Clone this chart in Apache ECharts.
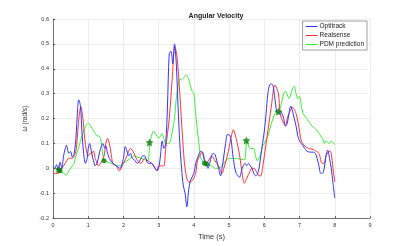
<!DOCTYPE html>
<html><head><meta charset="utf-8">
<script src="https://cdn.jsdelivr.net/npm/echarts@6/dist/echarts.min.js"></script>
<style>html,body{margin:0;padding:0;background:#fff}#c{width:409px;height:246px}</style>
</head><body><div id="c"></div>
<script>
const xTicks = [0,1,2,3,4,5,6,7,8,9];
const yTicks = [-0.2,-0.1,0,0.1,0.2,0.3,0.4,0.5,0.6];
const optitrack = [[0,0.01],[0.05,0.0],[0.1,0.015],[0.15,-0.01],[0.2,0.025],[0.25,0.0],[0.3,0.05],[0.35,0.08],[0.38,0.093],[0.45,0.06],[0.5,0.068],[0.55,0.045],[0.6,0.06],[0.65,0.12],[0.7,0.24],[0.73,0.275],[0.78,0.25],[0.82,0.15],[0.87,0.06],[0.92,0.02],[0.97,0.04],[1.0,0.08],[1.04,0.1],[1.1,0.06],[1.15,0.03],[1.2,0.01],[1.25,0.02],[1.3,0.05],[1.35,0.08],[1.42,0.1],[1.47,0.08],[1.5,0.09],[1.55,0.06],[1.6,0.04],[1.7,0.02],[1.8,0.01],[1.9,0.0],[2.0,0.04],[2.05,0.087],[2.1,0.07],[2.15,0.05],[2.2,0.06],[2.25,0.04],[2.3,0.035],[2.4,0.02],[2.5,0.04],[2.55,0.05],[2.6,0.05],[2.7,0.02],[2.8,0.02],[2.9,0.0],[2.95,-0.01],[3.0,0.0],[3.05,0.05],[3.1,0.11],[3.15,0.08],[3.2,0.1],[3.25,0.25],[3.3,0.46],[3.35,0.47],[3.4,0.42],[3.45,0.5],[3.5,0.42],[3.55,0.25],[3.6,0.1],[3.65,0.0],[3.7,-0.07],[3.75,-0.1],[3.8,-0.155],[3.85,-0.09],[3.9,-0.05],[4.0,-0.02],[4.05,0.02],[4.1,0.04],[4.15,0.06],[4.2,0.07],[4.25,0.06],[4.3,0.03],[4.35,0.02],[4.4,0.0],[4.45,0.02],[4.5,0.05],[4.55,0.06],[4.6,0.055],[4.65,0.03],[4.7,0.0],[4.76,-0.03],[4.8,0.0],[4.85,0.05],[4.9,0.1],[4.95,0.135],[5.0,0.135],[5.05,0.12],[5.1,0.06],[5.15,0.01],[5.2,-0.02],[5.25,-0.03],[5.3,-0.035],[5.35,-0.01],[5.4,0.01],[5.45,0.02],[5.5,0.01],[5.55,0.02],[5.6,0.01],[5.65,0.0],[5.7,-0.02],[5.75,-0.03],[5.8,-0.025],[5.85,0.0],[5.9,0.05],[5.95,0.1],[6.0,0.15],[6.05,0.22],[6.1,0.3],[6.15,0.335],[6.2,0.34],[6.25,0.33],[6.3,0.28],[6.35,0.23],[6.4,0.22],[6.45,0.23],[6.5,0.22],[6.55,0.2],[6.6,0.17],[6.65,0.18],[6.7,0.22],[6.75,0.25],[6.8,0.23],[6.85,0.2],[6.9,0.17],[6.95,0.13],[7.0,0.11],[7.05,0.1],[7.1,0.09],[7.15,0.08],[7.2,0.07],[7.3,0.065],[7.4,0.065],[7.45,0.06],[7.5,0.04],[7.55,0.01],[7.6,-0.02],[7.65,-0.02],[7.7,0.0],[7.75,0.05],[7.8,0.073],[7.85,0.04],[7.9,0.0],[7.95,-0.06],[8.0,-0.12]];
const realsense = [[0,-0.02],[0.15,-0.02],[0.25,0.0],[0.35,0.02],[0.45,0.04],[0.55,0.04],[0.65,0.07],[0.72,0.18],[0.79,0.248],[0.85,0.2],[0.9,0.12],[0.95,0.07],[1.0,0.05],[1.05,0.06],[1.1,0.06],[1.15,0.07],[1.2,0.04],[1.3,0.01],[1.35,0.02],[1.45,0.05],[1.5,0.1],[1.55,0.12],[1.6,0.1],[1.65,0.06],[1.7,0.02],[1.8,0.01],[1.88,-0.01],[2.0,0.02],[2.1,0.05],[2.2,0.08],[2.3,0.06],[2.4,0.03],[2.5,0.02],[2.6,0.04],[2.7,0.03],[2.8,0.02],[2.9,0.0],[2.95,-0.01],[3.0,0.01],[3.1,0.01],[3.15,0.01],[3.2,0.08],[3.3,0.2],[3.38,0.35],[3.46,0.49],[3.52,0.45],[3.6,0.3],[3.68,0.12],[3.75,0.0],[3.85,-0.055],[3.95,-0.05],[4.05,-0.02],[4.1,0.03],[4.2,0.06],[4.25,0.065],[4.3,0.04],[4.35,0.02],[4.45,0.04],[4.5,0.05],[4.6,0.03],[4.7,0.01],[4.8,-0.02],[4.85,0.0],[4.95,0.05],[5.05,0.12],[5.12,0.155],[5.2,0.12],[5.3,0.05],[5.38,-0.03],[5.43,-0.06],[5.5,-0.04],[5.6,-0.01],[5.65,0.0],[5.7,0.0],[5.8,-0.02],[5.85,-0.03],[5.9,-0.03],[5.95,0.0],[6.0,0.05],[6.1,0.15],[6.2,0.25],[6.3,0.335],[6.4,0.3],[6.45,0.22],[6.55,0.18],[6.6,0.17],[6.65,0.2],[6.7,0.22],[6.8,0.245],[6.9,0.22],[7.0,0.15],[7.05,0.11],[7.15,0.09],[7.25,0.08],[7.4,0.075],[7.45,0.07],[7.55,0.06],[7.64,0.02],[7.7,0.02],[7.75,0.05],[7.86,0.07],[7.9,0.06],[7.95,0.0],[8.0,-0.055]];
const pdm = [[0.15,-0.005],[0.2,-0.01],[0.3,-0.02],[0.38,-0.027],[0.45,-0.01],[0.5,0.0],[0.55,0.01],[0.6,0.02],[0.65,0.05],[0.72,0.08],[0.8,0.12],[0.9,0.16],[0.95,0.175],[1.0,0.18],[1.07,0.17],[1.15,0.15],[1.2,0.14],[1.25,0.13],[1.3,0.13],[1.35,0.12],[1.4,0.07],[1.45,0.03],[1.55,0.025],[1.65,0.02],[1.8,0.01],[1.9,0.01],[2.0,0.02],[2.1,0.03],[2.2,0.04],[2.3,0.05],[2.4,0.045],[2.5,0.04],[2.6,0.035],[2.7,0.03],[2.75,0.1],[2.85,0.15],[2.95,0.13],[3.0,0.12],[3.1,0.14],[3.15,0.12],[3.2,0.1],[3.3,0.1],[3.35,0.12],[3.45,0.2],[3.5,0.28],[3.6,0.36],[3.65,0.355],[3.75,0.37],[3.78,0.375],[3.85,0.36],[3.9,0.33],[3.95,0.31],[4.0,0.3],[4.05,0.22],[4.1,0.15],[4.15,0.09],[4.2,0.04],[4.3,0.02],[4.35,0.015],[4.5,0.01],[4.6,0.0],[4.7,0.0],[4.8,0.01],[4.9,0.03],[5.0,0.04],[5.2,0.04],[5.4,0.035],[5.45,0.035],[5.5,0.11],[5.6,0.08],[5.7,0.08],[5.75,0.05],[5.8,0.03],[5.9,0.06],[5.95,0.09],[6.0,0.1],[6.1,0.13],[6.2,0.18],[6.3,0.22],[6.4,0.23],[6.45,0.24],[6.55,0.3],[6.6,0.31],[6.7,0.28],[6.8,0.32],[6.85,0.33],[6.9,0.3],[6.95,0.28],[7.0,0.29],[7.05,0.25],[7.1,0.22],[7.2,0.2],[7.3,0.18],[7.35,0.17],[7.45,0.16],[7.55,0.14],[7.65,0.12],[7.7,0.1],[7.75,0.11],[7.85,0.1],[7.9,0.11],[8.0,0.095]];
const starPoints = [[0.16,-0.004],[2.74,0.104],[5.49,0.112],[6.4,0.228]];
const dotPoints = [[0.2,-0.01],[1.45,0.03],[4.3,0.02],[4.36,0.017]];

const chart = echarts.init(document.getElementById('c'));
const font = 'Liberation Sans';
chart.setOption({
  animation:false,
  title:{text:'Angular Velocity',left:211,top:8,textAlign:'center',textStyle:{fontFamily:font,fontSize:7,fontWeight:'bold',color:'#222'}},
  legend:{show:true,right:42,top:21,orient:'vertical',itemWidth:12,itemHeight:1,itemGap:2,padding:[2,3,2,3],
    backgroundColor:'#fff',borderColor:'#888',borderWidth:0.8,borderRadius:0,
    icon:'rect',textStyle:{fontFamily:font,fontSize:6.5,color:'#222',padding:[0,0,0,-3]},
    data:['Optitrack','Realsense','PDM prediction']},
  grid:{left:53,right:39,top:19,bottom:27},
  xAxis:{type:'value',min:0,max:9,interval:1,name:'Time (s)',nameLocation:'middle',nameGap:11,
    nameTextStyle:{fontFamily:font,fontSize:7.5,color:'#333'},
    axisLine:{onZero:false,lineStyle:{color:'#555',width:0.8}},axisTick:{show:true,length:-2,lineStyle:{color:'#555'}},
    axisLabel:{fontFamily:font,fontSize:5.5,color:'#333',margin:4,formatter:v=>String(v)},
    splitLine:{show:true,lineStyle:{color:'#e8e8e8',width:0.8}}},
  yAxis:{type:'value',min:-0.2,max:0.6,interval:0.1,name:'ω (rad/s)',nameLocation:'middle',nameGap:16,nameRotate:90,
    nameTextStyle:{fontFamily:font,fontSize:6.5,color:'#333'},
    axisLine:{show:true,onZero:false,lineStyle:{color:'#555',width:0.8}},axisTick:{show:true,length:-2,lineStyle:{color:'#555'}},
    axisLabel:{fontFamily:font,fontSize:5.5,color:'#333',margin:4,formatter:v=>{const r=Math.round(v*10)/10;return r===0?'0':r.toFixed(1);}},
    splitLine:{show:true,lineStyle:{color:'#e8e8e8',width:0.8}}},
  series:[
    {name:'Optitrack',type:'line',data:optitrack,showSymbol:false,smooth:0.3,lineStyle:{color:'#3333ff',width:1},itemStyle:{color:'#3333ff'},z:3},
    {name:'Realsense',type:'line',data:realsense,showSymbol:false,smooth:0.3,lineStyle:{color:'#ff3333',width:1},itemStyle:{color:'#ff3333'},z:2},
    {name:'PDM prediction',type:'line',data:pdm,showSymbol:false,smooth:0.2,lineStyle:{color:'#33ee33',width:1},itemStyle:{color:'#33ee33'},z:1},
    {name:'stars',type:'scatter',data:starPoints,symbol:'path://M0,-10L2.9,-4L9.5,-3.1L4.7,1.5L5.9,8.1L0,5L-5.9,8.1L-4.7,1.5L-9.5,-3.1L-2.9,-4Z',symbolSize:8,itemStyle:{color:'#0a7a0a'},z:5},
    {name:'dots',type:'scatter',data:dotPoints,symbol:'circle',symbolSize:5,itemStyle:{color:'#0a7a0a'},z:5}
  ]
});
</script></body></html>
